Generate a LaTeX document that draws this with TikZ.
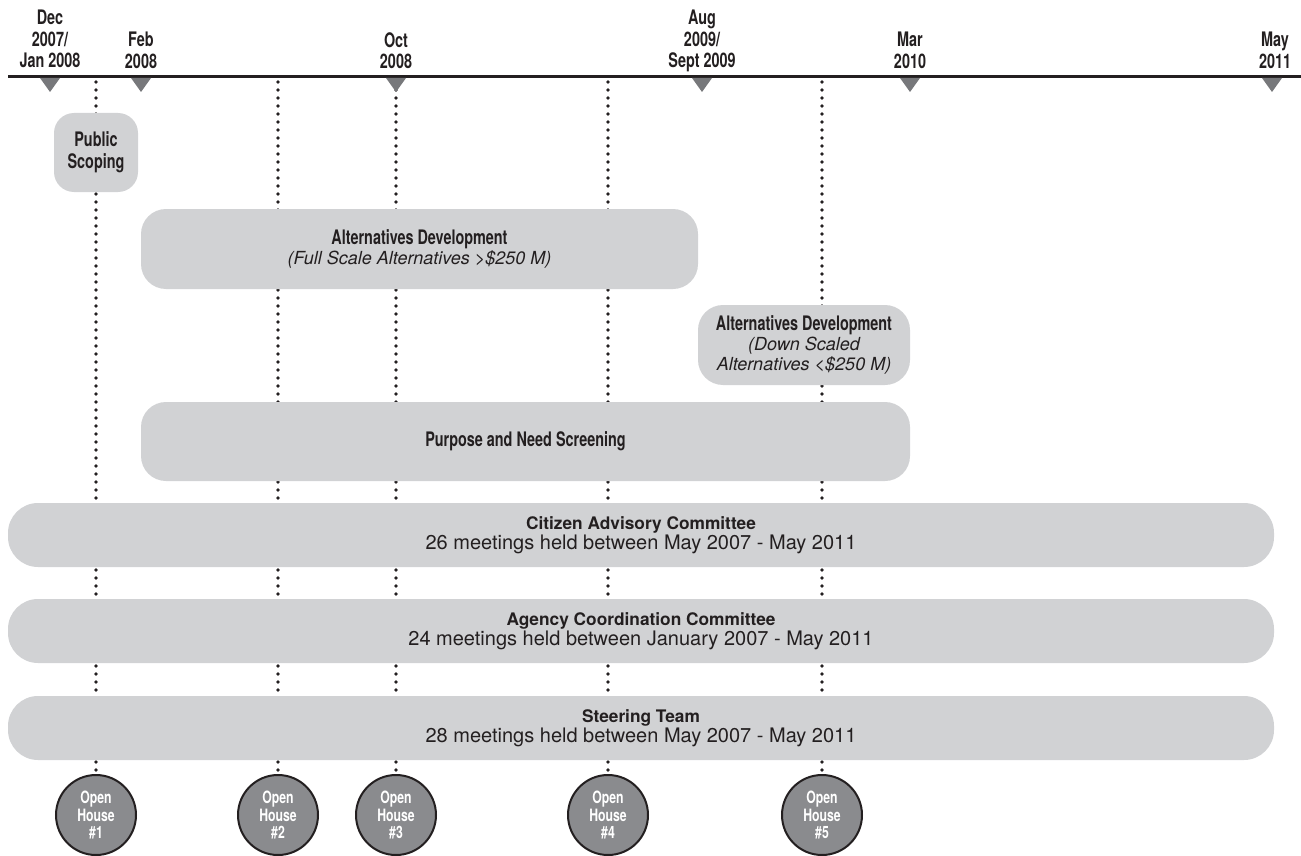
\documentclass[tikz,border=0pt]{standalone}
\usepackage{fontspec}
\setmainfont{TeX Gyre Heros}
\newfontfamily\condfont[FakeStretch=0.72]{TeX Gyre Heros}
\usetikzlibrary{positioning}
\definecolor{boxgray}{HTML}{D1D2D4}
\definecolor{markgray}{HTML}{77787B}
\definecolor{housegray}{HTML}{8A8B8E}
\definecolor{inkblack}{HTML}{231F20}
\newcommand{\bt}[1]{{\condfont\bfseries\fontsize{20}{20}\selectfont #1}}
\newcommand{\wt}[1]{{\bfseries\fontsize{17.3}{20}\selectfont #1}}
\newcommand{\subt}[1]{{\itshape\fontsize{18}{20}\selectfont #1}}

\tikzset{
  phase/.style={fill=boxgray, rounded corners=25pt, inner sep=0pt, align=center, text=inkblack,
    font=\fontsize{20}{20}\selectfont},
  band/.style={phase, rounded corners=30pt, minimum width=1266pt, minimum height=64pt},
  head/.style={font=\condfont\bfseries\fontsize{20}{21.5}\selectfont, text=inkblack, align=center,
    inner sep=0pt, anchor=north},
  house/.style={circle, draw=inkblack, line width=2pt, fill=housegray, minimum size=80pt,
    inner sep=0pt, align=center, text=white, font=\condfont\bfseries\fontsize{17}{17.5}\selectfont},
  dots/.style={line width=3.6pt, line cap=round, dash pattern=on 0pt off 8pt, inkblack},
  datemark/.style={fill=markgray},
}

\begin{document}
\begin{tikzpicture}[x=1pt, y=-1pt]
  \useasboundingbox (0,0) rectangle (1301,856);

  % open houses
  \node[house] (oh1) at (96,815)  {Open\\House\\\#1};
  \node[house] (oh2) at (278,815) {Open\\House\\\#2};
  \node[house] (oh3) at (396,815) {Open\\House\\\#3};
  \node[house] (oh4) at (608,815) {Open\\House\\\#4};
  \node[house] (oh5) at (822,815) {Open\\House\\\#5};

  % dotted guides, drawn under the boxes
  \foreach \n/\x in {1/96, 2/278, 3/396, 4/608, 5/822} {
    \coordinate (top\n) at (\x,82);
    \draw[dots] (top\n) -- (oh\n.north);
  }

  % phases
  \node[phase, rounded corners=20pt, minimum width=84pt, minimum height=79pt] (scoping)
    at (96,152.5) {\bt{Public}\\[2pt]\bt{Scoping}};
  \node[phase, minimum width=557pt, minimum height=80pt] (altfull) at (419.5,249)
    {\bt{Alternatives Development}\\\subt{(Full Scale Alternatives >\$250 M)}};
  \node[phase, minimum width=212pt, minimum height=80pt] (altdown) at (804,345)
    {\bt{Alternatives Development}\\\subt{(Down Scaled}\\\subt{Alternatives <\$250 M)}};
  \node[phase, minimum width=769pt, minimum height=79pt] (screen) at (525.5,441.5)
    {\bt{Purpose and Need Screening}};

  % committees
  \node[band] (cac) at (641,535)
    {\wt{Citizen Advisory Committee}\\26 meetings held between May 2007 - May 2011};
  \node[band] (acc) at (641,631)
    {\wt{Agency Coordination Committee}\\24 meetings held between January 2007 - May 2011};
  \node[band] (steer) at (641,728)
    {\wt{Steering Team}\\28 meetings held between May 2007 - May 2011};

  % timeline
  \draw[line width=3pt, inkblack] (8,76.5) -- (1301,76.5);
  \foreach \x in {50, 141, 396, 702, 910, 1272}
    \fill[datemark] (\x-10,78) -- (\x+10,78) -- (\x,92) -- cycle;

  \node[head] (dec) at (50,10)   {Dec\\2007/\\Jan 2008};
  \node[head] (feb) at (141,32)  {Feb\\2008};
  \node[head] (oct) at (396,32)  {Oct\\2008};
  \node[head] (aug) at (702,10)  {Aug\\2009/\\Sept 2009};
  \node[head] (mar) at (910,32)  {Mar\\2010};
  \node[head] (may) at (1275,32) {May\\2011};
\end{tikzpicture}
\end{document}
